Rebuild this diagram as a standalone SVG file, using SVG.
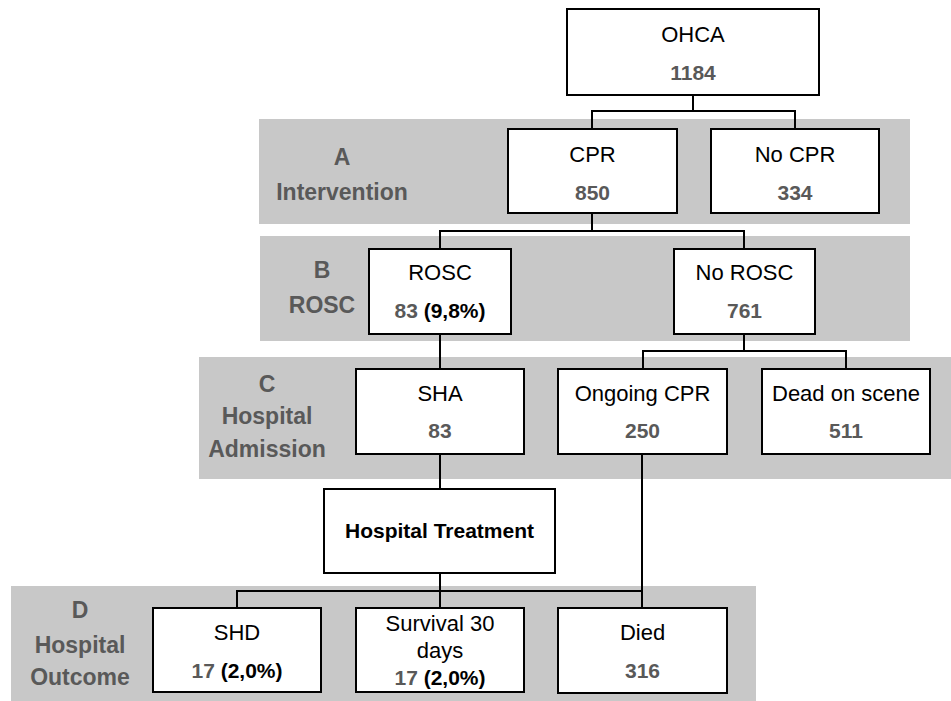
<svg xmlns="http://www.w3.org/2000/svg" width="951" height="701" viewBox="0 0 951 701">
<style>
.band{fill:#c8c8c8;stroke:none}
.box{fill:#fff;stroke:#000;stroke-width:2}
.con{fill:none;stroke:#000;stroke-width:2}
text{font-family:"Liberation Sans",Arial,sans-serif;text-anchor:middle}
.lbl{font-size:23px;font-weight:bold;fill:#595959}
.t{font-size:22px;fill:#000}
.n{font-size:21px;font-weight:bold;fill:#595959}
.nr{font-weight:bold;fill:#595959}
.pb{font-weight:bold;fill:#000}
.ht{font-size:21px;font-weight:bold;fill:#000}
</style>
<rect width="951" height="701" fill="#fff"/>
<g id="bands">
<rect class="band" x="259" y="119" width="651" height="105"/>
<rect class="band" x="260" y="236" width="650" height="105"/>
<rect class="band" x="199" y="357" width="752" height="122"/>
<rect class="band" x="11" y="586" width="745" height="115"/>
</g>
<g id="labels">
<text class="lbl" x="342" y="165">A</text>
<text class="lbl" x="342" y="200">Intervention</text>
<text class="lbl" x="322" y="278">B</text>
<text class="lbl" x="322" y="313">ROSC</text>
<text class="lbl" x="267" y="392">C</text>
<text class="lbl" x="267" y="424">Hospital</text>
<text class="lbl" x="267" y="457">Admission</text>
<text class="lbl" x="80" y="618">D</text>
<text class="lbl" x="80" y="653">Hospital</text>
<text class="lbl" x="80" y="685">Outcome</text>
</g>
<g id="connectors">
<path class="con" d="M693,95 V111 M592,129 V111 H795 V129"/>
<path class="con" d="M592,213 V231 M440,249 V231 H744 V249"/>
<path class="con" d="M440,334 V369"/>
<path class="con" d="M744,334 V351 M643,369 V351 H846 V369"/>
<path class="con" d="M440,454 V489"/>
<path class="con" d="M440,573 V608 M237,608 V591 H642"/>
<path class="con" d="M642,454 V608"/>
</g>
<g id="ohca">
<rect class="box" x="567" y="9" width="252" height="86"/>
<text class="t" x="693" y="42">OHCA</text>
<text class="n" x="693" y="80">1184</text>
</g>
<g id="cpr">
<rect class="box" x="508" y="129" width="169" height="84"/>
<text class="t" x="592.5" y="162">CPR</text>
<text class="n" x="592.5" y="200">850</text>
</g>
<g id="nocpr">
<rect class="box" x="711" y="129" width="168" height="84"/>
<text class="t" x="795" y="162">No CPR</text>
<text class="n" x="795" y="200">334</text>
</g>
<g id="rosc">
<rect class="box" x="369" y="249" width="142" height="85"/>
<text class="t" x="440" y="280">ROSC</text>
<text class="n" x="440" y="318"><tspan class="nr">83</tspan> <tspan class="pb">(9,8%)</tspan></text>
</g>
<g id="norosc">
<rect class="box" x="674" y="249" width="141" height="85"/>
<text class="t" x="744.5" y="280">No ROSC</text>
<text class="n" x="744.5" y="318">761</text>
</g>
<g id="sha">
<rect class="box" x="356" y="369" width="168" height="85"/>
<text class="t" x="440" y="401">SHA</text>
<text class="n" x="440" y="438">83</text>
</g>
<g id="ongoing">
<rect class="box" x="558" y="369" width="169" height="85"/>
<text class="t" x="642.5" y="401">Ongoing CPR</text>
<text class="n" x="642.5" y="438">250</text>
</g>
<g id="dead">
<rect class="box" x="762" y="369" width="168" height="85"/>
<text class="t" x="846" y="401">Dead on scene</text>
<text class="n" x="846" y="438">511</text>
</g>
<g id="treatment">
<rect class="box" x="324" y="489" width="231" height="84"/>
<text class="ht" x="439.5" y="538">Hospital Treatment</text>
</g>
<g id="shd">
<rect class="box" x="153" y="608" width="168" height="84"/>
<text class="t" x="237" y="640">SHD</text>
<text class="n" x="237" y="678"><tspan class="nr">17</tspan> <tspan class="pb">(2,0%)</tspan></text>
</g>
<g id="survival">
<rect class="box" x="356" y="608" width="168" height="84"/>
<text class="t" x="440" y="631">Survival 30</text>
<text class="t" x="440" y="658">days</text>
<text class="n" x="440" y="685"><tspan class="nr">17</tspan> <tspan class="pb">(2,0%)</tspan></text>
</g>
<g id="died">
<rect class="box" x="558" y="608" width="169" height="85"/>
<text class="t" x="642.5" y="640">Died</text>
<text class="n" x="642.5" y="678">316</text>
</g>
</svg>
